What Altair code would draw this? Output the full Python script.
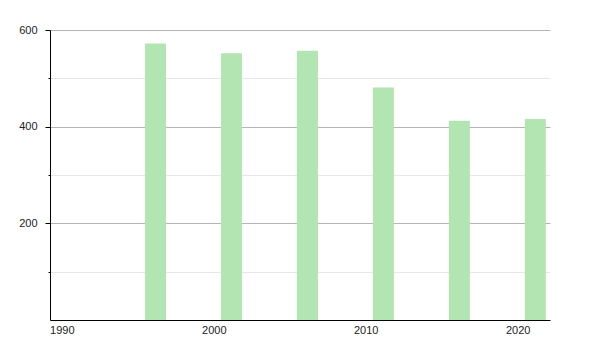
import altair as alt
import pandas as pd

years = [1996, 2001, 2006, 2011, 2016, 2021]
values = [572, 552, 557, 481, 412, 416]

df = pd.DataFrame({"year": years, "value": values})

bars = alt.Chart(df).mark_bar(
    color="#b2e5b2", width=21, xOffset=2.5, clip=True
).encode(
    x=alt.X(
        "year:Q",
        scale=alt.Scale(domain=[1989.55, 2021.8], nice=False, zero=False),
        axis=alt.Axis(
            values=[1990, 2000, 2010, 2020],
            format="d",
            title=None,
            grid=False,
            ticks=False,
            labelPadding=4,
            domainColor="#000000",
            labelFlush=False,
        ),
    ),
    y=alt.Y(
        "value:Q",
        scale=alt.Scale(domain=[0, 600], nice=False),
        axis=alt.Axis(
            values=[100, 200, 300, 400, 500, 600],
            title=None,
            labelExpr="datum.value % 200 === 0 ? datum.label : ''",
            tickSize={"condition": {"test": "datum.value % 200 === 0", "value": 5}, "value": 2},
            gridColor={"condition": {"test": "datum.value % 200 === 0", "value": "#b4b4b4"}, "value": "#e6e6e6"},
            tickColor="#000000",
            domainColor="#000000",
            labelPadding=8,
        ),
    ),
)

chart = bars.properties(
    width=500,
    height=290,
    autosize="none",
    padding={"left": 50, "top": 30, "right": 50, "bottom": 30},
).configure_view(stroke=None).configure_axis(
    labelFont="Liberation Sans",
    labelFontSize=11,
    labelColor="#222222",
    domainWidth=1,
)

chart.save("out.html", embed_options={"renderer": "svg", "actions": False})
